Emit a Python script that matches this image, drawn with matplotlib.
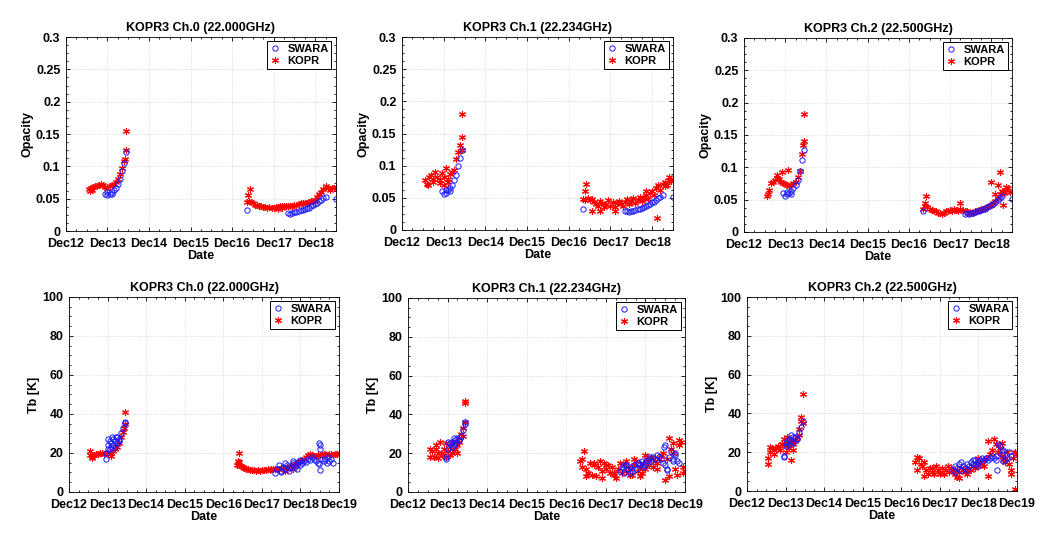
import matplotlib
matplotlib.use('Agg')
import matplotlib.pyplot as plt
from matplotlib.ticker import MultipleLocator, AutoMinorLocator, FormatStrFormatter
import numpy as np

plt.rcParams['font.family'] = ['Liberation Sans', 'DejaVu Sans']
plt.rcParams['font.weight'] = 'bold'

# time axis, days of December
t_kopr_a = [12.55, 12.60, 12.65, 12.70, 12.75, 12.80, 12.85, 12.90, 12.95, 13.00,
            13.05, 13.10, 13.15, 13.20, 13.25, 13.30, 13.35, 13.40, 13.45]
t_kopr_b = [16.35, 16.40, 16.45, 16.50, 16.55, 16.60, 16.65, 16.70, 16.75, 16.80,
            16.85, 16.90, 16.95, 17.00, 17.05, 17.10, 17.15, 17.20, 17.25, 17.30,
            17.35, 17.40, 17.45, 17.50, 17.55, 17.60, 17.65, 17.70, 17.75, 17.80,
            17.85, 17.90, 17.95, 18.00, 18.05, 18.10, 18.15, 18.20, 18.25, 18.30,
            18.35, 18.40, 18.45, 18.50, 18.55, 18.60, 18.65, 18.70, 18.75, 18.80,
            18.85, 18.90, 18.95, 19.00]
t_swara_a = [12.95, 13.00, 13.05, 13.10, 13.15, 13.20, 13.25, 13.30, 13.35, 13.40, 13.45]
t_swara_b = [17.35, 17.40, 17.45, 17.50, 17.55, 17.60, 17.65, 17.70, 17.75, 17.80,
             17.85, 17.90, 17.95, 18.00, 18.05, 18.10, 18.15, 18.20, 18.25, 18.30,
             18.35, 18.40, 18.45, 18.50, 18.55, 18.60, 18.65, 18.70, 18.75, 18.80, 18.85]

titles = ['KOPR3 Ch.0 (22.000GHz)', 'KOPR3 Ch.1 (22.234GHz)', 'KOPR3 Ch.2 (22.500GHz)']
xtick_top = ['Dec12', 'Dec13', 'Dec14', 'Dec15', 'Dec16', 'Dec17', 'Dec18']
xtick_bot = ['Dec12', 'Dec13', 'Dec14', 'Dec15', 'Dec16', 'Dec17', 'Dec18', 'Dec19']

# ---- opacity, ch0
op0_kopr_a = [.065, .067, .068, .069, .070, .071, .072, .071, .068, .067,
              .069, .071, .073, .076, .080, .088, .097, .108, .125]
op0_kopr_b = [.045, .046, .045, .043, .041, .040, .039, .038, .037, .037,
              .036, .037, .036, .035, .037, .037, .038, .038, .038, .038,
              .039, .039, .039, .040, .041, .042, .043, .043, .044, .044,
              .045, .046, .047, .048, .052, .058, .060, .065, .070, .067,
              .064, .066, .067, .068]
op0_kopr_xt = [12.57, 12.62, 13.45, 13.42, 16.38, 16.42, 17.10, 17.20]
op0_kopr_xv = [.062, .064, .155, .112, .055, .065, .034, .036]
op0_swara_a = [.058, .055, .057, .060, .063, .066, .072, .080, .093, .105, .122]
op0_swara_b = [.028, .027, .028, .029, .030, .031, .032, .033, .034, .035,
               .036, .038, .040, .042, .044, .046, .048, .051, .053]
op0_swara_xt = [16.35, 18.50, 13.00, 13.10]
op0_swara_xv = [.032, .050, .060, .058]

# ---- opacity, ch1
op1_kopr_a = [.078, .072, .082, .085, .080, .090, .083, .078, .088, .082,
              .097, .080, .087, .090, .093, .110, .122, .132, .145]
op1_kopr_b = [.048, .047, .050, .046, .048, .044, .040, .037, .045, .042,
              .035, .040, .047, .038, .043, .036, .042, .045, .040, .038,
              .043, .048, .040, .045, .050, .042, .047, .052, .045, .050,
              .055, .048, .058, .060, .055, .065, .070, .062, .072, .075,
              .070, .078, .076, .080]
op1_kopr_xt = [12.62, 12.75, 12.90, 13.00, 13.10, 13.45, 13.44, 16.38, 16.42, 16.55,
               16.75, 17.10, 17.85, 18.12, 18.30, 18.40]
op1_kopr_xv = [.070, .075, .073, .070, .075, .180, .125, .060, .072, .030,
               .030, .030, .060, .018, .068, .082]
op1_swara_a = [.060, .056, .058, .062, .065, .070, .078, .085, .100, .112, .125]
op1_swara_b = [.030, .029, .028, .029, .030, .031, .032, .033, .034, .035,
               .037, .039, .041, .043, .044, .046, .049, .052, .054]
op1_swara_xt = [16.35, 18.50, 13.05, 13.15]
op1_swara_xv = [.032, .051, .062, .060]

# ---- opacity, ch2
op2_kopr_a = [.055, .065, .075, .078, .080, .083, .082, .078, .075, .074,
              .072, .071, .072, .075, .078, .085, .095, .120, .140]
op2_kopr_b = [.035, .040, .038, .036, .034, .033, .032, .030, .029, .028,
              .030, .033, .032, .034, .033, .035, .034, .033, .035, .034,
              .033, .032, .030, .029, .030, .032, .033, .034, .035, .036,
              .037, .038, .040, .042, .045, .048, .052, .058, .063, .060,
              .065, .068, .062, .062]
op2_kopr_xt = [12.57, 12.80, 12.92, 13.07, 13.45, 13.42, 16.38, 16.42, 17.25, 18.00,
               18.10, 18.15, 18.22, 18.28, 18.35]
op2_kopr_xv = [.058, .088, .093, .096, .183, .135, .045, .055, .045, .078,
               .058, .073, .092, .042, .070]
op2_swara_a = [.060, .056, .058, .061, .064, .068, .072, .080, .095, .112, .127]
op2_swara_b = [.028, .029, .028, .030, .030, .031, .032, .033, .034, .035,
               .036, .038, .040, .042, .044, .046, .049, .052, .055]
op2_swara_xt = [16.35, 18.50, 13.05, 13.15]
op2_swara_xv = [.033, .051, .062, .059]

# ---- Tb, ch0
tb0_kopr_a = [19, 18.5, 19, 19.5, 19.5, 20, 20, 19.5, 20, 20,
              20.5, 20, 21, 22, 23, 25, 28, 31, 35]
tb0_kopr_b = [14, 14, 13.5, 13, 12.5, 12, 12, 11.5, 11.5, 11.5,
              11, 11.5, 11, 11.5, 11.5, 11.5, 12, 11.5, 12, 12,
              12, 12, 12, 12.5, 12.5, 12.5, 13, 13, 13.5, 14,
              14.5, 15, 15.5, 16, 16.5, 17, 18, 19, 19.5, 19,
              18.5, 18.5, 19, 19, 19, 19.5, 19.5, 19, 19.5, 19.5,
              19, 19.5, 19.5, 20]
tb0_kopr_xt = [12.55, 12.60, 13.10, 13.45, 13.42, 16.38, 16.42, 16.40, 17.60, 17.80]
tb0_kopr_xv = [21, 17.5, 18.5, 41, 33, 16, 20, 15.5, 11, 12]
tb0_swara_a = [20, 24, 26, 25, 27, 26, 28, 27, 30, 33, 35.5]
tb0_swara_b = [9.5, 12, 14, 11, 13, 12, 14, 12.5, 13, 15,
               13, 14, 15.5, 14, 15, 16, 15.5, 17, 16.5, 18,
               17, 16, 15, 24, 17, 16, 17, 15, 16, 17, 15]
tb0_swara_xt = [12.95, 13.00, 13.05, 13.10, 13.15, 13.20, 13.25, 13.02, 13.12, 13.22,
                13.30, 13.45, 18.48, 18.50, 18.52, 18.47, 18.72, 17.50, 17.60, 17.70,
                17.80, 17.90, 18.00]
tb0_swara_xv = [17, 22, 22, 23, 24, 23, 25, 27, 28, 28,
                26, 36, 25, 22, 11.5, 14.5, 18, 10.5, 15, 11,
                16, 12, 16.5]

# ---- Tb, ch1
tb1_kopr_a = [22, 21, 18, 24, 20, 26, 19, 22, 18, 21,
              23, 20, 25, 22, 24, 26, 30, 33, 36]
tb1_kopr_b = [16, 13, 21, 12, 10, 15, 9, 14, 8, 13,
              16, 11, 15, 12, 14, 10, 13, 9, 7, 12,
              15, 10, 14, 11, 13, 12, 9, 14, 16, 11,
              13, 10, 15, 12, 17, 14, 18, 13, 16, 15,
              17, 19, 20, 6, 17, 28, 22, 25, 12, 9,
              24, 26, 13, 11]
tb1_kopr_xt = [12.55, 12.70, 12.75, 12.85, 12.95, 13.05, 13.10, 13.15, 13.25, 13.30,
               13.40, 13.45, 13.45, 16.40, 16.50, 16.70, 16.90, 17.00, 17.20, 17.50,
               17.60, 17.70, 17.85, 18.00, 18.15, 18.30, 18.60, 18.70, 18.85, 18.95]
tb1_kopr_xv = [18, 22, 17.5, 20, 25, 19, 26, 21, 20, 28,
               29, 47, 46, 17, 8, 15, 7, 14, 10, 16,
               9, 17, 8, 19, 17, 12, 8, 20, 27, 10]
tb1_swara_a = [18, 22, 25, 26, 24, 27, 28, 27, 29, 32, 36]
tb1_swara_b = [11, 13, 10, 14, 12, 13, 11, 14, 12, 15,
               14, 16, 13, 15, 16, 17, 16, 18, 17, 19,
               18, 17, 15, 24, 12, 18, 21, 17, 19, 16, 15]
tb1_swara_xt = [12.95, 13.00, 13.10, 13.15, 13.20, 13.30, 13.45, 17.45, 17.60, 17.80,
                18.00, 18.10, 18.48, 18.50, 18.55, 18.70, 18.75]
tb1_swara_xv = [17, 26, 23, 28, 25, 27, 35, 14, 10, 15,
                14, 18, 23, 14, 11.5, 16, 20]

# ---- Tb, ch2
tb2_kopr_a = [14, 20, 22, 21, 22, 23, 21, 24, 27, 20,
              25, 22, 26, 24, 27, 28, 32, 36, 35]
tb2_kopr_b = [15, 11, 17, 14, 13, 15, 11, 9, 12, 10,
              9, 13, 11, 10, 12, 9, 11, 13, 10, 12,
              11, 9, 11, 10, 12, 11, 10, 11, 12, 11,
              13, 12, 14, 13, 15, 14, 16, 17, 26, 19,
              21, 27, 24, 20, 22, 18, 16, 17, 20, 14,
              9, 17, 20, 20]
tb2_kopr_xt = [12.55, 12.60, 12.70, 12.80, 12.90, 13.00, 13.05, 13.15, 13.20, 13.25,
               13.35, 13.40, 13.45, 16.40, 16.60, 16.80, 17.00, 17.45, 17.50, 17.70,
               18.00, 18.15, 18.25, 18.60, 18.70, 18.85, 18.96, 18.98]
tb2_kopr_xv = [17, 22.5, 19, 22, 24, 23, 28, 16, 21, 26,
               29, 38, 50, 17.5, 8, 12, 9, 7, 6.5, 9,
               17, 13, 8, 25, 15, 11, 1.2, 19]
tb2_swara_a = [18, 25, 26, 27, 26, 28, 28, 27, 30, 33, 36]
tb2_swara_b = [11, 13, 12, 14, 11, 13, 12, 14, 13, 15,
               14, 16, 14, 15, 16, 17, 16, 17, 16, 17,
               18, 17, 16, 24, 23, 19, 21, 16, 17, 20, 18]
tb2_swara_xt = [12.95, 13.00, 13.10, 13.15, 13.20, 13.30, 17.40, 17.55, 17.70, 17.85,
                18.00, 18.48, 18.45, 18.60, 18.65]
tb2_swara_xv = [17.5, 23, 24, 29, 25, 27, 10, 15, 11, 16,
                13, 11, 18, 20.5, 15.5]

ASTER = (6, 2, 0)   # asterisk-like marker


def panel(rect, title, ylabel, ylim, ymajor, xmax, xlabels,
          kopr_a, kopr_b, kopr_xt, kopr_xv, sw_a, sw_b, sw_xt, sw_xv):
    ax = fig.add_axes(rect)
    nb = len(kopr_b)
    ntb = len(sw_b)
    kx = list(t_kopr_a) + t_kopr_b[:nb] + kopr_xt
    ky = list(kopr_a) + kopr_b + kopr_xv
    sx = list(t_swara_a) + t_swara_b[:ntb] + sw_xt
    sy = list(sw_a) + sw_b + sw_xv
    hk, = ax.plot(kx, ky, ls='none', marker=ASTER, ms=5, color='red',
                  mec='red', mew=0.8, label='KOPR')
    hs, = ax.plot(sx, sy, ls='none', marker='o', ms=3.8, mfc='none',
                  mec='#1a1aff', mew=0.7, label='SWARA')
    ax.set_xlim(12, xmax)
    ax.set_ylim(*ylim)
    ax.set_xticks(np.arange(12, 12 + len(xlabels)))
    ax.set_xticklabels(xlabels)
    ax.xaxis.set_minor_locator(MultipleLocator(0.25))
    ax.yaxis.set_major_locator(MultipleLocator(ymajor))
    ax.yaxis.set_minor_locator(AutoMinorLocator(4))
    ax.yaxis.set_major_formatter(FormatStrFormatter('%g'))
    ax.tick_params(which='both', direction='in', top=True, right=True,
                   labelsize=9, width=0.6)
    ax.tick_params(which='major', length=3)
    ax.tick_params(which='minor', length=1.6)
    ax.tick_params(axis='x', which='major', pad=5)
    ax.tick_params(axis='y', which='major', pad=4)
    for lab in ax.get_xticklabels() + ax.get_yticklabels():
        lab.set_fontweight('bold')
    ax.grid(True, which='major', ls=':', lw=0.6, color='#d0d0d0')
    for s in ax.spines.values():
        s.set_linewidth(0.6)
    ax.set_title(title, fontsize=9, fontweight='bold', pad=4)
    ax.set_xlabel('Date', fontsize=9, fontweight='bold', labelpad=0)
    ax.set_ylabel(ylabel, fontsize=9, fontweight='bold', labelpad=2)
    leg = ax.legend([hs, hk], ['SWARA', 'KOPR'], loc='upper right', fontsize=8,
                    frameon=True, fancybox=False, edgecolor='black', framealpha=1,
                    handlelength=1.0, handletextpad=0.6, borderpad=0.25,
                    labelspacing=0.15, borderaxespad=0.4)
    leg.get_frame().set_linewidth(0.7)
    for txt in leg.get_texts():
        txt.set_fontweight('bold')
    return ax


fig = plt.figure(figsize=(10.57, 5.35), dpi=100)

rects_top = [[0.0624, 0.5682, 0.2554, 0.3626],
             [0.3803, 0.5701, 0.2564, 0.3607],
             [0.7039, 0.5664, 0.2535, 0.3626]]
rects_bot = [[0.0653, 0.0804, 0.2554, 0.3645],
             [0.3860, 0.0804, 0.2621, 0.3626],
             [0.7067, 0.0822, 0.2554, 0.3626]]

panel(rects_top[0], titles[0], 'Opacity', (0, 0.3), 0.05, 18.5, xtick_top,
      op0_kopr_a, op0_kopr_b, op0_kopr_xt, op0_kopr_xv,
      op0_swara_a, op0_swara_b, op0_swara_xt, op0_swara_xv)
panel(rects_top[1], titles[1], 'Opacity', (0, 0.3), 0.05, 18.5, xtick_top,
      op1_kopr_a, op1_kopr_b, op1_kopr_xt, op1_kopr_xv,
      op1_swara_a, op1_swara_b, op1_swara_xt, op1_swara_xv)
panel(rects_top[2], titles[2], 'Opacity', (0, 0.3), 0.05, 18.5, xtick_top,
      op2_kopr_a, op2_kopr_b, op2_kopr_xt, op2_kopr_xv,
      op2_swara_a, op2_swara_b, op2_swara_xt, op2_swara_xv)

panel(rects_bot[0], titles[0], 'Tb [K]', (0, 100), 20, 19, xtick_bot,
      tb0_kopr_a, tb0_kopr_b, tb0_kopr_xt, tb0_kopr_xv,
      tb0_swara_a, tb0_swara_b, tb0_swara_xt, tb0_swara_xv)
panel(rects_bot[1], titles[1], 'Tb [K]', (0, 100), 20, 19, xtick_bot,
      tb1_kopr_a, tb1_kopr_b, tb1_kopr_xt, tb1_kopr_xv,
      tb1_swara_a, tb1_swara_b, tb1_swara_xt, tb1_swara_xv)
panel(rects_bot[2], titles[2], 'Tb [K]', (0, 100), 20, 19, xtick_bot,
      tb2_kopr_a, tb2_kopr_b, tb2_kopr_xt, tb2_kopr_xv,
      tb2_swara_a, tb2_swara_b, tb2_swara_xt, tb2_swara_xv)

fig.savefig('out.png', dpi=100)
